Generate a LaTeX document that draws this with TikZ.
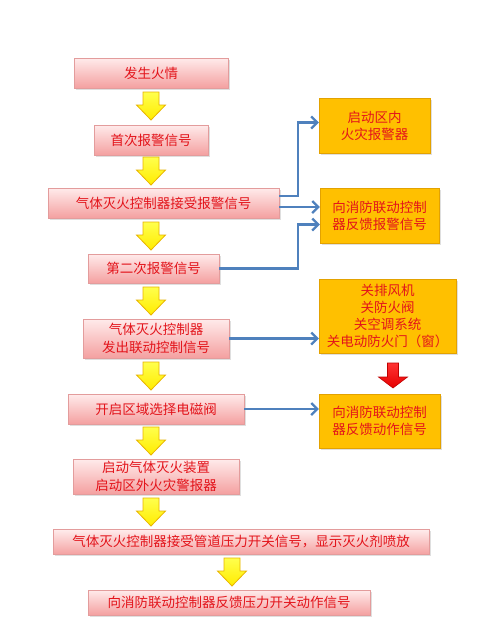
\documentclass[tikz,border=0pt]{standalone}
\usepackage{fontspec}
\setmainfont{Noto Sans CJK SC}
\usetikzlibrary{shadows,arrows.meta}
\definecolor{pinkline}{HTML}{E39C9C}
\definecolor{pinktop}{HTML}{FFEBEB}
\definecolor{pinkbot}{HTML}{F4A0A0}
\definecolor{firered}{HTML}{E3141B}
\definecolor{amber}{HTML}{FFC000}
\definecolor{amberline}{HTML}{E3A200}
\definecolor{linkblue}{HTML}{4F81BD}
\definecolor{arrowline}{HTML}{E8B400}
\tikzset{
  stepbox/.style={draw=pinkline, top color=pinktop, bottom color=pinkbot,
    text=firered, align=center, inner sep=0pt,
    drop shadow={shadow xshift=1.5pt, shadow yshift=-1.5pt, opacity=.25},
    font=\fontsize{13.5}{18}\selectfont},
  actbox/.style={draw=amberline, fill=amber, text=firered, align=center,
    inner sep=0pt,
    drop shadow={shadow xshift=1.5pt, shadow yshift=-1.5pt, opacity=.25},
    font=\fontsize{13.5}{17}\selectfont},
  link/.style={draw=linkblue, line width=2.2pt,
    -{Straight Barb[length=6pt, width=12pt]}},
  yfill/.style={draw=arrowline, line width=.8pt, top color=yellow!70!white,
    bottom color={yellow!85!orange}},
  rfill/.style={draw=red!75!black, line width=.6pt, top color=red!80!white,
    bottom color=red!90!black},
  yarrow/.pic={\draw[yfill] (-8,-14) -- (8,-14) -- (8,-1) -- (14.5,-1)
    -- (0,14) -- (-14.5,-1) -- (-8,-1) -- cycle;},
  rarrow/.pic={\draw[rfill] (-5.5,-12.5) -- (5.5,-12.5) -- (5.5,1.5)
    -- (14.5,1.5) -- (0,12.5) -- (-14.5,1.5) -- (-5.5,1.5) -- cycle;}
}
\begin{document}
\begin{tikzpicture}[x=1pt, y=-1pt]
\useasboundingbox (0,0) rectangle (478,637);
\fill[white] (0,0) rectangle (478,637);

% main sequence
\node[stepbox, minimum width=154pt, minimum height=30pt] (n1) at (151,73) {发生火情};
\node[stepbox, minimum width=114pt, minimum height=30pt] (n2) at (151,140) {首次报警信号};
\node[stepbox, minimum width=231pt, minimum height=30pt] (n3) at (163.5,203) {气体灭火控制器接受报警信号};
\node[stepbox, minimum width=131pt, minimum height=29pt] (n4) at (153.5,268.5) {第二次报警信号};
\node[stepbox, minimum width=146pt, minimum height=39pt] (n5) at (156,338.5) {气体灭火控制器\\发出联动控制信号};
\node[stepbox, minimum width=176pt, minimum height=30pt] (n6) at (156,409) {开启区域选择电磁阀};
\node[stepbox, minimum width=166pt, minimum height=35pt] (n7) at (156,476.5) {启动气体灭火装置\\启动区外火灾警报器};
\node[stepbox, minimum width=376pt, minimum height=25pt] (n8) at (241,542) {气体灭火控制器接受管道压力开关信号，显示灭火剂喷放};
\node[stepbox, minimum width=282pt, minimum height=25pt] (n9) at (229,602.5) {向消防联动控制器反馈压力开关动作信号};

% linked actions
\node[actbox, minimum width=111pt, minimum height=55pt] (a) at (374.5,125.5) {启动区内\\火灾报警器};
\node[actbox, minimum width=119pt, minimum height=55pt] (b) at (379.5,215.5) {向消防联动控制\\器反馈报警信号};
\node[actbox, minimum width=137pt, minimum height=74pt] (c) at (387.5,316) {关排风机\\关防火阀\\关空调系统\\关电动防火门（窗）};
\node[actbox, minimum width=121pt, minimum height=54pt] (d) at (379.5,421) {向消防联动控制\\器反馈动作信号};

% flow arrows
\foreach \y in {106,171,236,301,376,441,512}
  \pic at (151,\y) {yarrow};
\pic at (232,572) {yarrow};
\pic at (393,375.5) {rarrow};

% connectors
\coordinate (o1) at ([yshift=7pt]n3.east);
\coordinate (o2) at ([yshift=-4pt]n3.east);
\draw[link] (o1) -- ++(19,0) |- ([yshift=3pt]a.west);
\draw[link] (o2) -- (o2 -| b.west);
\draw[link] (n4.east) -- ++(79,0) |- ([yshift=-9pt]b.west);
\draw[link] (n5.east) -- (n5.east -| c.west);
\draw[link] (n6.east) -- (n6.east -| d.west);
\end{tikzpicture}
\end{document}
